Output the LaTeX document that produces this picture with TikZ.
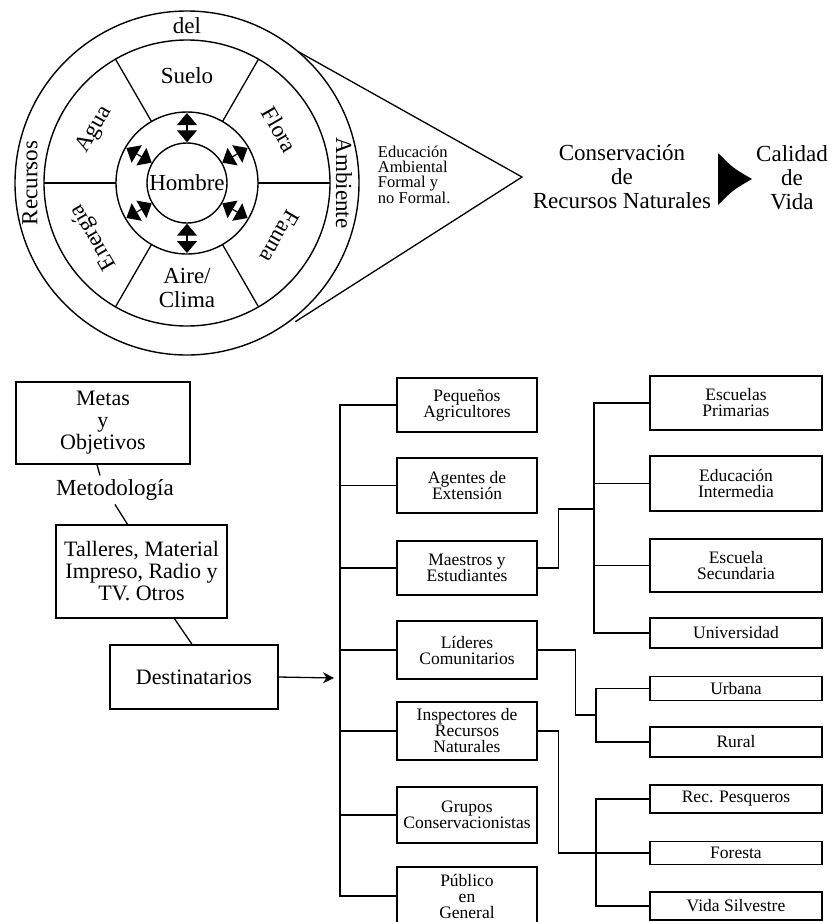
\documentclass[tikz,border=0pt]{standalone}
\usepackage{fontspec}
\setmainfont{Liberation Serif}
\usetikzlibrary{arrows.meta}

\begin{document}
\begin{tikzpicture}[x=1pt,y=1pt,line width=1.3pt,
  big/.style={font=\fontsize{23}{24}\selectfont},
  caja/.style={draw,line width=1.4pt,align=center,inner sep=2pt,font=\fontsize{22}{22}\selectfont},
  chica/.style={draw,line width=1.4pt,align=center,inner sep=1pt,minimum width=140pt,font=\fontsize{17.5}{16}\selectfont},
  hoja/.style={chica,minimum width=172pt},
  doble/.style={line width=1.2pt,{Triangle[width=20pt,length=12pt]}-{Triangle[width=20pt,length=12pt]}}]
\useasboundingbox (0,0) rectangle (831,-922);

% circulo de recursos
\begin{scope}[shift={(187,-183)}]
  \draw[line width=1.4pt] (0,0) circle (172);
  \draw[line width=1.4pt] (0,0) circle (143);
  \draw[line width=1.4pt] (0,0) circle (71);
  \node[circle,draw,line width=1.4pt,minimum size=80pt,inner sep=0pt,font=\fontsize{23}{23}\selectfont] (hombre) at (0,0) {Hombre};
  \foreach \a in {0,60,...,300}
    \draw (\a:71) -- (\a:143);
  \foreach \a in {30,90,...,330}
    \draw[doble] (hombre.\a) -- (\a:70);
  \node[big] (suelo) at (90:107) {Suelo};
  \node[big,rotate=-60] (flora) at (30:107) {Flora};
  \node[big,rotate=-120] (fauna) at (-30:107) {Fauna};
  \node[big,align=center] (aire) at (-90:105) {Aire/\\Clima};
  \node[big,rotate=120] (energia) at (210:108) {Energía};
  \node[big,rotate=60] (agua) at (150:107) {Agua};
  \node[big] (del) at (90:157) {del};
  \node[big,rotate=90] (recursos) at (180:157) {Recursos};
  \node[big,rotate=-90] (ambiente) at (0:157) {Ambiente};
  % embudo
  \draw (50:172) -- (335,6) -- (-52:176);
\end{scope}

\node[align=left,anchor=west,font=\fontsize{16.5}{15}\selectfont] (educ) at (374,-175) {Educación\\Ambiental\\Formal y\\no Formal.};
\node[big,align=center] (conserv) at (622,-177) {Conservación\\de\\Recursos Naturales};
\fill (718,-153) .. controls (733,-168) .. (752,-179) .. controls (733,-190) .. (718,-205) -- cycle;
\node[big,align=center] (calidad) at (792,-178) {Calidad\\de\\Vida};

% lado izquierdo
\node[caja,minimum width=174pt,minimum height=82pt] (metas) at (103,-423) {Metas\\y\\Objetivos};
\node[big] (metodo) at (115,-490) {Metodología};
\node[caja,minimum width=171pt,minimum height=93pt] (talleres) at (141.5,-571.5) {Talleres, Material\\Impreso, Radio y\\TV. Otros};
\node[caja,minimum width=168pt,minimum height=64pt] (dest) at (194,-677) {Destinatarios};
\draw ([xshift=-6pt]metas.south) -- ([xshift=-15pt]metodo.north);
\draw (metodo.south) -- ([xshift=-14pt]talleres.north);
\draw ([xshift=33pt]talleres.south) -- ([xshift=-2pt]dest.north);
\coordinate (punta) at (334,-678);
\draw[-{Stealth[length=11pt,width=11pt]}] (dest.east) -- (punta);

% destinatarios
\node[chica,minimum height=54pt] (peq) at (467,-405) {Pequeños\\Agricultores};
\node[chica,minimum height=55pt] (agentes) at (467,-485.5) {Agentes de\\Extensión};
\node[chica,minimum height=54pt] (maestros) at (467,-568) {Maestros y\\Estudiantes};
\node[chica,minimum height=58pt] (lideres) at (467,-650) {Líderes\\Comunitarios};
\node[chica,minimum height=58pt] (inspect) at (467,-731) {Inspectores de\\Recursos\\Naturales};
\node[chica,minimum height=56pt] (grupos) at (467,-815) {Grupos\\Conservacionistas};
\node[chica,minimum height=58pt] (publico) at (467,-896) {Público\\en\\General};

% subgrupos
\node[hoja,minimum height=54pt] (primarias) at (736,-403) {Escuelas\\Primarias};
\node[hoja,minimum height=55pt] (intermedia) at (736,-483.5) {Educación\\Intermedia};
\node[hoja,minimum height=53pt] (secundaria) at (736,-565.5) {Escuela\\Secundaria};
\node[hoja,minimum height=30pt] (univ) at (736,-633) {Universidad};
\node[hoja,minimum height=24pt] (urbana) at (736,-688.5) {Urbana};
\node[hoja,minimum height=30pt] (rural) at (736,-742) {Rural};
\node[hoja,minimum height=28pt] (pesq) at (736,-799) {Rec. Pesqueros};
\node[hoja,minimum height=23pt] (foresta) at (736,-853) {Foresta};
\node[hoja,minimum height=28pt] (silv) at (736,-906) {Vida Silvestre};

% conexiones
\coordinate (b1) at (340,0);
\draw (peq.west) -- (peq.west -| b1) -- (publico.west -| b1) -- (publico.west);
\foreach \n in {agentes,maestros,lideres,inspect,grupos}
  \draw (\n.west) -- (\n.west -| b1);

\coordinate (b2) at (594,-509);
\draw (primarias.west) -- (primarias.west -| b2) -- (univ.west -| b2) -- (univ.west);
\foreach \n in {intermedia,secundaria}
  \draw (\n.west) -- (\n.west -| b2);
\draw (maestros.east) -- ++(21,0) |- (b2);

\coordinate (b3) at (596,-715);
\draw (urbana.west) -- (urbana.west -| b3) -- (rural.west -| b3) -- (rural.west);
\draw (lideres.east) -- ++(38,0) |- (b3);

\coordinate (b4) at (596,-799);
\draw (pesq.west) -- (pesq.west -| b4) -- (silv.west -| b4) -- (silv.west);
\draw (inspect.east) -- ++(21,0) |- (foresta.west);
\end{tikzpicture}
\end{document}
